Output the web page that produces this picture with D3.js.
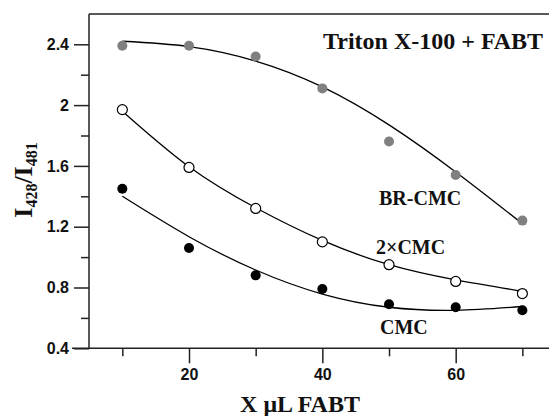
<!DOCTYPE html>
<html>
<head>
<meta charset="utf-8">
<script src="https://cdn.jsdelivr.net/npm/d3@7"></script>
<style>
  body { margin: 0; background: #fff; }
  svg { display: block; }
  .tick text { font-family: "Liberation Sans", Arial, sans-serif; font-weight: bold; font-size: 16px; fill: #111; }
  .serif { font-family: "Liberation Serif", "Times New Roman", serif; font-weight: bold; fill: #111; }
</style>
</head>
<body>
<svg id="chart" width="549" height="416"></svg>
<script>
// x values (µL FABT) and measured ratios
const xValues = [10, 20, 30, 40, 50, 60, 70];
const brCmc = [2.39, 2.39, 2.32, 2.11, 1.76, 1.54, 1.24];
const twoCmc = [1.97, 1.59, 1.32, 1.10, 0.95, 0.84, 0.76];
const cmc = [1.45, 1.06, 0.88, 0.79, 0.69, 0.67, 0.65];

// fitted curves at the same x values
const brFit = [2.42, 2.385, 2.29, 2.12, 1.87, 1.56, 1.22];
const twoFit = [1.96, 1.595, 1.325, 1.11, 0.95, 0.85, 0.775];
const cmcFit = [1.40, 1.134, 0.915, 0.757, 0.67, 0.65, 0.675];

// tick values
const xMajor = [20, 40, 60];
const xMinor = [10, 30, 50, 70];
const yMajor = [0.4, 0.8, 1.2, 1.6, 2.0, 2.4];
const yMinor = [0.6, 1.0, 1.4, 1.8, 2.2];

const svg = d3.select("#chart");

const x = d3.scaleLinear().domain([5, 75]).range([89, 555.7]);
const y = d3.scaleLinear().domain([0.4, 2.6]).range([348.3, 13.9]);

// axes
const fmtY = d => d === 2 ? "2" : d3.format(".1f")(d);

svg.append("g")
  .attr("transform", "translate(0," + y(0.4) + ")")
  .call(d3.axisBottom(x).tickValues(xMinor).tickSize(8).tickFormat(""))
  .call(g => g.select(".domain").remove());
svg.append("g")
  .attr("transform", "translate(0," + y(0.4) + ")")
  .call(d3.axisBottom(x).tickValues(xMajor).tickSize(15).tickPadding(5).tickFormat(d3.format("d")))
  .call(g => g.select(".domain").attr("d", "M72,0H549"));

svg.append("g")
  .attr("transform", "translate(" + x(5) + ",0)")
  .call(d3.axisLeft(y).tickValues(yMinor).tickSize(8).tickFormat(""))
  .call(g => g.select(".domain").remove());
svg.append("g")
  .attr("transform", "translate(" + x(5) + ",0)")
  .call(d3.axisLeft(y).tickValues(yMajor).tickSize(15).tickPadding(5).tickFormat(fmtY))
  .call(g => g.select(".domain").attr("d", "M0," + y(2.6) + "V" + y(0.4)));

svg.selectAll(".domain, .tick line").attr("stroke", "#222").attr("stroke-width", 1.5);

// top frame line
svg.append("line")
  .attr("x1", x(5)).attr("x2", 549)
  .attr("y1", y(2.6)).attr("y2", y(2.6))
  .attr("stroke", "#222").attr("stroke-width", 1.5);

// fitted curves
const line = d3.line()
  .x((d, i) => x(xValues[i]))
  .y(d => y(d))
  .curve(d3.curveNatural);

[brFit, twoFit, cmcFit].forEach(fit => {
  svg.append("path")
    .attr("d", line(fit))
    .attr("fill", "none")
    .attr("stroke", "#000")
    .attr("stroke-width", 1.3);
});

// points
function dots(values, fill, stroke) {
  svg.append("g").selectAll("circle")
    .data(values)
    .join("circle")
    .attr("cx", (d, i) => x(xValues[i]))
    .attr("cy", d => y(d))
    .attr("r", 5)
    .attr("fill", fill)
    .attr("stroke", stroke)
    .attr("stroke-width", 1.2);
}
dots(brCmc, "#808080", "none");
dots(twoCmc, "#fff", "#000");
dots(cmc, "#000", "none");

// text labels
svg.append("text").attr("class", "serif").attr("x", 323).attr("y", 49)
  .attr("font-size", 24).text("Triton X-100 + FABT");
svg.append("text").attr("class", "serif").attr("x", 379).attr("y", 205)
  .attr("font-size", 20).text("BR-CMC");
svg.append("text").attr("class", "serif").attr("x", 376).attr("y", 254)
  .attr("font-size", 20).text("2×CMC");
svg.append("text").attr("class", "serif").attr("x", 380).attr("y", 334)
  .attr("font-size", 20).text("CMC");

svg.append("text").attr("class", "serif")
  .attr("x", 300).attr("y", 412)
  .attr("text-anchor", "middle")
  .attr("font-size", 24)
  .text("X μL FABT");

const yl = svg.append("text").attr("class", "serif")
  .attr("transform", "translate(32,180) rotate(-90)")
  .attr("text-anchor", "middle")
  .attr("font-size", 26);
yl.append("tspan").text("I");
yl.append("tspan").attr("font-size", 16).attr("dy", 5).text("428");
yl.append("tspan").attr("dy", -5).text("/I");
yl.append("tspan").attr("font-size", 16).attr("dy", 5).text("481");
</script>
</body>
</html>
